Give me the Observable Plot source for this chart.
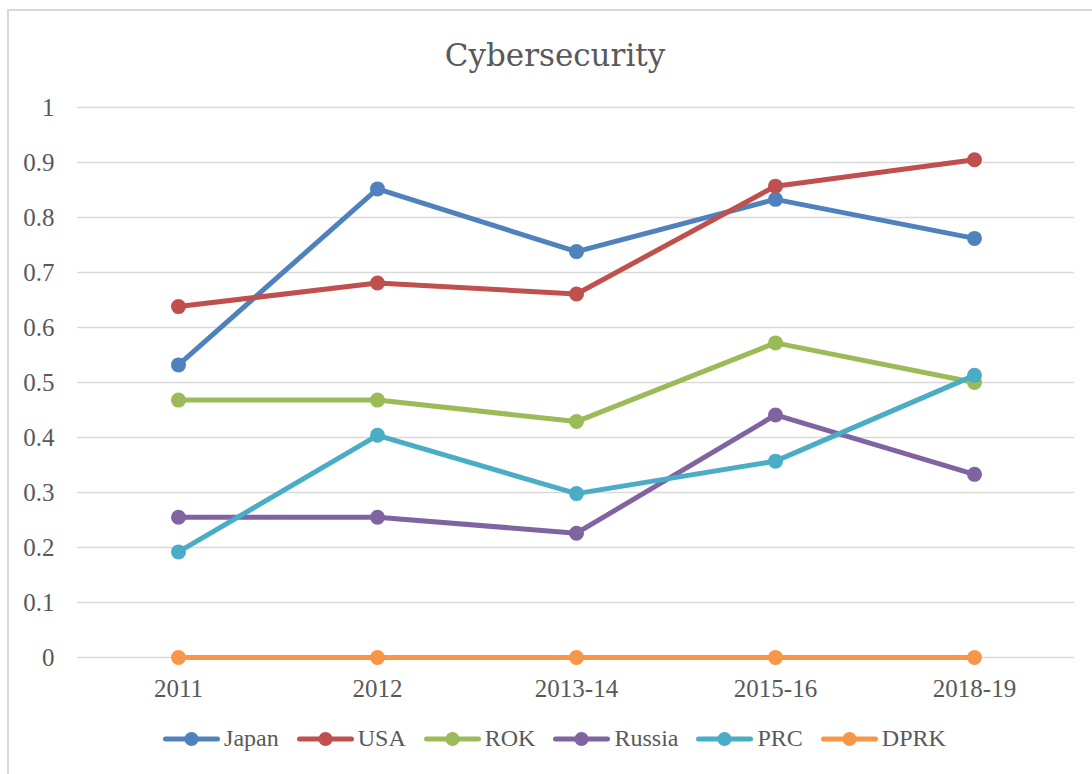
<!DOCTYPE html>
<html>
<head>
<meta charset="utf-8">
<script src="https://cdn.jsdelivr.net/npm/d3@7"></script>
<script src="https://cdn.jsdelivr.net/npm/@observablehq/plot@0.6"></script>
<style>
  html, body { margin: 0; padding: 0; background: #fff; overflow: hidden; width: 1092px; height: 774px; }
  #frame { position: absolute; left: 7px; top: 9px; width: 1200px; height: 900px;
           border-left: 2px solid #d9d9d9; border-top: 2px solid #d9d9d9; box-sizing: border-box; }
  #title { position: absolute; left: 0; top: 40px; width: 1110px; text-align: center;
           font-family: "DejaVu Serif", serif; font-size: 31px; line-height: 31px; color: #595959; }
  #chart { position: absolute; left: 0; top: 90px; }
  #legend { position: absolute; left: 0; top: 726px; width: 1109px; display: flex; justify-content: center;
            align-items: center; font-family: "Liberation Serif", serif; font-size: 24px; line-height: 25px; color: #595959; }
  .item { display: flex; align-items: center; margin-left: 18px; }
  .item:first-child { margin-left: 0; }
  .item svg { margin-right: 4px; }
</style>
</head>
<body>
<div id="frame"></div>
<div id="title">Cybersecurity</div>
<div id="chart"></div>
<div id="legend"></div>
<script>
const categories = ["2011", "2012", "2013-14", "2015-16", "2018-19"];
const seriesNames = ["Japan", "USA", "ROK", "Russia", "PRC", "DPRK"];
const seriesColors = ["#4F81BD", "#C0504D", "#9BBB59", "#8064A2", "#4BACC6", "#F79646"];
const japan  = [0.532, 0.852, 0.738, 0.833, 0.762];
const usa    = [0.638, 0.681, 0.661, 0.857, 0.905];
const rok    = [0.468, 0.468, 0.429, 0.572, 0.500];
const russia = [0.255, 0.255, 0.226, 0.441, 0.333];
const prc    = [0.192, 0.404, 0.298, 0.357, 0.513];
const dprk   = [0, 0, 0, 0, 0];
const yTicks = [0, 0.1, 0.2, 0.3, 0.4, 0.5, 0.6, 0.7, 0.8, 0.9, 1];
const yTickLabels = ["0", "0.1", "0.2", "0.3", "0.4", "0.5", "0.6", "0.7", "0.8", "0.9", "1"];

const seriesValues = [japan, usa, rok, russia, prc, dprk];
const tables = seriesValues.map((vals, i) =>
  categories.map((c, j) => ({category: c, value: vals[j], series: seriesNames[i]})));

const marks = [
  Plot.ruleY(yTicks, {stroke: "#d9d9d9", strokeWidth: 1.3}),
  Plot.axisY({ticks: yTicks, tickSize: 0, tickPadding: 23, label: null,
              tickFormat: d => yTickLabels[yTicks.indexOf(d)]}),
  Plot.axisX({tickSize: 0, tickPadding: 22, label: null})
];
tables.forEach((t, i) => {
  marks.push(Plot.line(t, {x: "category", y: "value", stroke: seriesColors[i], strokeWidth: 5,
                           strokeLinejoin: "round", strokeLinecap: "round"}));
  marks.push(Plot.dot(t, {x: "category", y: "value", fill: seriesColors[i], r: 7.5, stroke: "none"}));
});

const chart = Plot.plot({
  width: 1092,
  height: 684,
  marginTop: 17,
  marginBottom: 117,
  marginLeft: 77,
  marginRight: 18,
  x: {type: "point", domain: categories, padding: 0.5},
  y: {domain: [0, 1]},
  style: {fontFamily: "Liberation Serif, serif", fontSize: "25px", color: "#595959", background: "transparent", overflow: "visible"},
  marks
});
document.getElementById("chart").appendChild(chart);

const legend = document.getElementById("legend");
seriesNames.forEach((name, i) => {
  const item = document.createElement("div");
  item.className = "item";
  item.innerHTML = `<svg width="57" height="16"><line x1="2.5" y1="8" x2="54.5" y2="8" stroke="${seriesColors[i]}" stroke-width="5" stroke-linecap="round"/><circle cx="28.5" cy="8" r="7" fill="${seriesColors[i]}"/></svg><span>${name}</span>`;
  legend.appendChild(item);
});
</script>
</body>
</html>
